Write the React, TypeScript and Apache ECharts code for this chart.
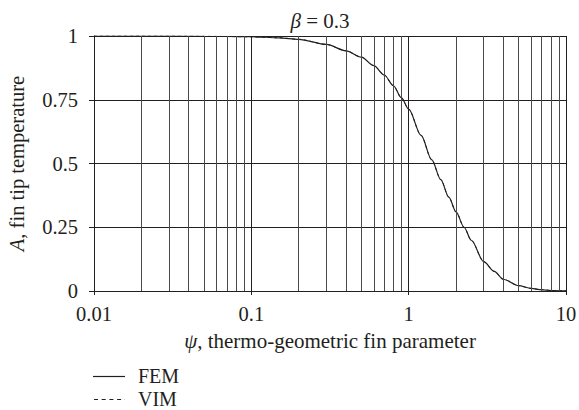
import React, { useEffect, useRef } from "react";
import * as echarts from "echarts";

const psi = [0.01, 0.02, 0.05, 0.1, 0.15, 0.2, 0.3, 0.4, 0.5, 0.6, 0.7, 0.8, 0.9, 1, 1.2, 1.4, 1.6, 1.8, 2, 2.25, 2.5, 3, 3.5, 4, 5, 6, 7, 8, 10];
const femA = [1, 1, 0.999, 0.997, 0.993, 0.987, 0.967, 0.942, 0.917, 0.884, 0.847, 0.805, 0.757, 0.713, 0.61, 0.515, 0.437, 0.368, 0.31, 0.25, 0.199, 0.115, 0.077, 0.046, 0.021, 0.01, 0.005, 0.002, 0.0005];
const vimA = [1, 1, 0.999, 0.997, 0.993, 0.987, 0.967, 0.942, 0.917, 0.884, 0.847, 0.805, 0.757, 0.713, 0.61, 0.515, 0.437, 0.368, 0.31, 0.25, 0.199, 0.115, 0.077, 0.046, 0.021, 0.01, 0.005, 0.002, 0.0005];
const minorGrid = [0.02, 0.03, 0.04, 0.05, 0.06, 0.07, 0.08, 0.09, 0.2, 0.3, 0.4, 0.5, 0.6, 0.7, 0.8, 0.9, 2, 3, 4, 5, 6, 7, 8, 9];
const yTicks = [0, 0.25, 0.5, 0.75, 1];
const xTickLabels: Record<string, string> = { "0.01": "0.01", "0.1": "0.1", "1": "1", "10": "10" };
const legendNames = ["FEM", "VIM"];

const FONT = "'Liberation Serif', serif";
const TXT = "#231f20";

const rich = (size: number) => ({
  i: { fontFamily: FONT, fontSize: size, fontStyle: "italic", color: TXT },
  n: { fontFamily: FONT, fontSize: size, color: TXT },
});

export default function App() {
  const ref = useRef<HTMLDivElement>(null);
  useEffect(() => {
    if (!ref.current) return;
    const chart = echarts.init(ref.current, undefined, { renderer: "svg" });
    chart.setOption({
      animation: false,
      backgroundColor: "#ffffff",
      textStyle: { fontFamily: FONT, color: TXT },
      title: {
        text: "{i|β}{n| = 0.3}",
        left: 315,
        textAlign: "center",
        top: 5,
        textStyle: {
          fontFamily: FONT,
          fontSize: 21,
          fontWeight: "normal",
          color: TXT,
          rich: rich(21),
        },
      },
      grid: { left: 94, right: 13, top: 36, bottom: 119, containLabel: false, outerBoundsMode: "none" },
      graphic: [
        { type: "line", shape: { x1: 93, y1: 376.5, x2: 125, y2: 376.5 }, style: { stroke: TXT, lineWidth: 1.2 } },
        { type: "text", left: 138, top: 366, style: { text: legendNames[0], font: `20px ${FONT}`, fill: TXT } },
        { type: "line", shape: { x1: 94, y1: 399.5, x2: 125, y2: 399.5 }, style: { stroke: TXT, lineWidth: 1, lineDash: [4, 3.7] } },
        { type: "text", left: 138, top: 389, style: { text: legendNames[1], font: `20px ${FONT}`, fill: TXT } },
      ],
      xAxis: {
        type: "log",
        logBase: 10,
        min: 0.01,
        max: 10,
        name: "{i|ψ}{n|, thermo-geometric fin parameter}",
        nameLocation: "middle",
        nameGap: 39,
        nameTextStyle: {
          fontFamily: FONT,
          fontSize: 21,
          color: TXT,
          rich: rich(21),
        },
        axisLine: { show: true, lineStyle: { color: "#231f20", width: 1 } },
        axisTick: { show: true, inside: false, length: 4, lineStyle: { color: "#231f20" } },
        axisLabel: {
          fontFamily: FONT,
          fontSize: 20.5,
          color: TXT,
          margin: 12,
          formatter: (v: number) => {
            const k = String(Number(v.toPrecision(3)));
            return xTickLabels[k] ?? k;
          },
        },
        splitLine: { show: true, lineStyle: { color: "#231f20", width: 1 } },
      },
      yAxis: {
        type: "value",
        min: 0,
        max: 1,
        interval: 0.25,
        name: "{i|A}{n|, fin tip temperature}",
        nameLocation: "middle",
        nameGap: 67,
        nameTextStyle: {
          fontFamily: FONT,
          fontSize: 20.5,
          color: TXT,
          rich: rich(20.5),
        },
        axisLine: { show: true, lineStyle: { color: "#231f20", width: 1 } },
        axisTick: { show: true, inside: false, length: 5, lineStyle: { color: "#231f20" } },
        axisLabel: {
          fontFamily: FONT,
          fontSize: 20.5,
          color: TXT,
          margin: 16,
          formatter: (v: number) => {
            const t = yTicks.find((y) => Math.abs(y - v) < 1e-9);
            return t === undefined ? "" : String(t);
          },
        },
        splitLine: { show: true, lineStyle: { color: "#231f20", width: 1 } },
      },
      series: [
        {
          name: "FEM",
          type: "line",
          data: psi.map((x, i) => [x, femA[i]]),
          symbol: "none",
          smooth: 0.3,
          smoothMonotone: "x",
          lineStyle: { color: "#231f20", width: 1.2, type: "solid" },
          itemStyle: { color: "#231f20" },
          markLine: {
            silent: true,
            symbol: "none",
            label: { show: false },
            lineStyle: { color: "#4a4a4a", width: 1, type: "solid" },
            data: minorGrid.map((v) => ({ xAxis: v })),
          },
          z: 3,
        },
        {
          name: "VIM",
          type: "line",
          data: psi.map((x, i) => [x, vimA[i]]),
          symbol: "none",
          smooth: 0.3,
          smoothMonotone: "x",
          lineStyle: { color: "#231f20", width: 1, type: [3, 3] },
          itemStyle: { color: "#231f20" },
          z: 4,
        },
      ],
    });
    return () => chart.dispose();
  }, []);
  return <div ref={ref} style={{ width: 579, height: 410, position: "absolute", left: 0, top: 0 }} />;
}
